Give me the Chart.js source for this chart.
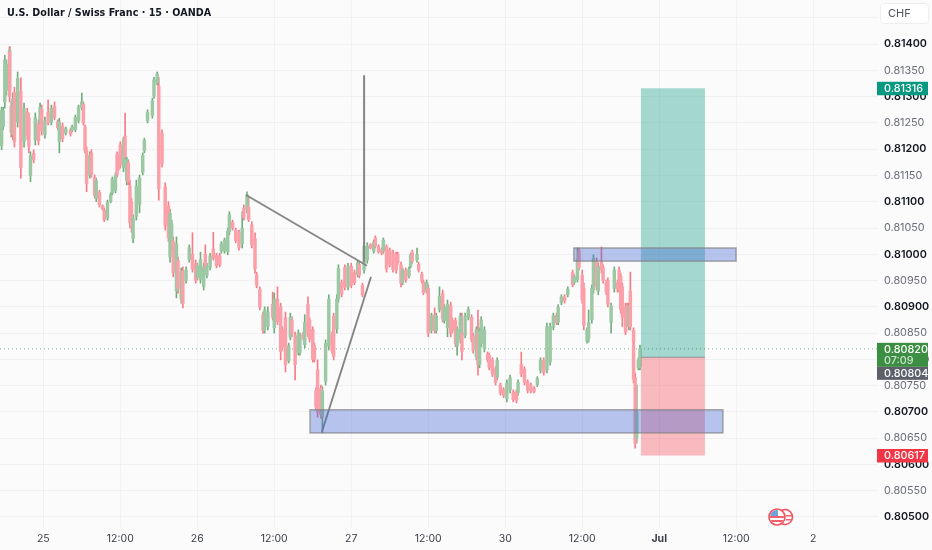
<!DOCTYPE html>
<html>
<head>
<meta charset="utf-8">
<title>USDCHF 15</title>
<script src="https://cdn.jsdelivr.net/npm/chart.js@4"></script>
<style>
  html, body { margin: 0; padding: 0; background: #fbfbfb; }
  canvas { display: block; }
</style>
</head>
<body>
<canvas id="grafico" width="932" height="550"></canvas>
<script>
// prices are in points, 81400 means 0.81400
const barSlots = [
  1,2,3,4,6,6,7,8,9,11, 13,15,17,18,19,21,22,24,25,26, 28,30,32,34,36,37,39,41,44,45,
  47,49,51,52,53,54,56,57,59,60, 62,64,65,67,69,70,72,73,74,75, 77,78,79,80,81,82,83,85,87,89,
  90,92,95,96,98,99,101,103,105,106, 107,108,110,111,113,114,116,118,120,122, 123,125,127,128,129,131,133,135,137,138,
  140,142,143,145,147,149,151,152,154,155, 157,159,160,162,164,165,167,170,171,173, 175,176,178,180,181,182,184,186,187,189,
  190,192,193,195,196,197,198,200,201,203, 205,207,208,210,211,213,215,217,219,221, 223,224,226,227,229,231,233,234,236,238,
  239,241,243,245,247,248,250,251,253,255, 256,257,260,261,263,264,266,267,269,271, 272,274,276,277,279,281,282,284,285,287,
  288,290,292,294,295,297,298,299,300,302, 304,305,307,309,310,312,314,316,318,320, 322,323,325,327,329,331,333,335,337,339,
  341,343,345,347,348,350,352,354,357,358, 360,361,363,364,366,367,369,370,372,373, 375,376,378,379,381,383,385,386,387,388,
  390,391,392,393,395,395,396,397,398,399
];
const highs = [
  81280,81280,81379,81370,81395,81395,81290,81307,81318,81347, 81336,81288,81278,81269,81195,81199,81269,81256,81288,81284,
  81261,81294,81284,81290,81256,81259,81250,81242,81240,81246, 81265,81284,81307,81290,81246,81204,81195,81199,81151,81145,
  81122,81094,81088,81103,81117,81147,81155,81195,81185,81214, 81223,81269,81185,81180,81141,81107,81075,81141,81151,81193,
  81221,81275,81297,81337,81347,81337,81237,81136,81100,81086, 81065,81033,81033,80995,80974,80976,80976,81018,81041,80989,
  80983,81004,80983,81018,80983,81002,81042,81002,81002,81024, 81031,81050,81081,81065,81050,81046,81081,81094,81119,81109,
  81062,81041,80966,80938,80890,80900,80900,80928,80926,80938, 80907,80862,80890,80831,80888,80881,80852,80856,80850,80852,
  80885,80919,80879,80862,80831,80746,80799,80751,80748,80837, 80923,80852,80888,80923,80980,80951,80980,80983,80983,80970,
  80989,80985,80945,81022,81022,81020,81027,81035,81018,81012, 81031,81018,81012,81008,81004,81004,80985,80974,80974,80976,
  81002,81008,81012,80985,80966,80951,80951,80942,80888,80898, 80888,80938,80932,80904,80913,80909,80879,80879,80862,80888,
  80888,80888,80900,80885,80850,80862,80894,80860,80881,80862, 80814,80812,80803,80786,80803,80755,80746,80761,80770,80742,
  80742,80761,80814,80786,80761,80755,80748,80767,80803,80803, 80869,80869,80888,80888,80904,80923,80923,80938,80970,80961,
  81012,81012,80970,80945,80860,80894,80942,80999,80993,80983, 81014,80980,80951,80955,80907,80976,80951,80976,80964,80945,
  80907,80907,80907,80966,80860,80831,80774,80751,80803,80827
];
const lows = [
  81199,81237,81278,81303,81307,81290,81223,81218,81204,81242, 81145,81204,81218,81193,81138,81174,81208,81208,81242,81227,
  81221,81246,81246,81256,81237,81193,81214,81227,81225,81233, 81233,81250,81275,81246,81193,81119,81145,81147,81107,81100,
  81090,81084,81062,81065,81098,81113,81117,81147,81160,81164, 81157,81176,81132,81132,81050,81042,81022,81065,81079,81151,
  81193,81250,81259,81297,81322,81103,81166,81046,81024,80985, 81008,80957,80917,80926,80907,80898,80945,80985,80966,80945,
  80951,80945,80932,80970,80955,80970,80989,80974,80976,81002, 81002,80999,81037,81046,81022,81008,81012,81065,81079,81062,
  81012,80964,80936,80894,80850,80850,80856,80875,80850,80866, 80799,80818,80776,80793,80837,80843,80761,80808,80808,80837,
  80822,80843,80833,80795,80795,80704,80690,80688,80660,80751, 80818,80812,80799,80850,80909,80919,80932,80932,80936,80942,
  80957,80955,80919,80964,80983,81010,81002,81012,81002,80999, 81002,80966,80976,80966,80964,80980,80938,80942,80947,80955,
  80974,80983,80985,80966,80945,80923,80926,80843,80850,80850, 80850,80890,80871,80869,80843,80843,80850,80824,80808,80831,
  80799,80841,80875,80833,80812,80799,80770,80784,80824,80814, 80795,80780,80767,80751,80761,80732,80727,80719,80736,80719,
  80717,80732,80767,80751,80736,80736,80736,80748,80774,80770, 80774,80789,80856,80866,80866,80904,80907,80919,80938,80942,
  80947,80970,80907,80856,80831,80833,80869,80926,80932,80923, 80964,80945,80923,80900,80850,80928,80928,80928,80888,80862,
  80847,80869,80856,80856,80827,80755,80631,80641,80780,80780
];
const opens = [
  81207,81243,81290,81312,81315,81385,81282,81228,81308,81252, 81310,81214,81270,81260,81150,81192,81218,81248,81250,81276,
  81228,81270,81252,81282,81252,81215,81244,81231,81237,81236, 81237,81254,81279,81285,81242,81198,81150,81193,81146,81106,
  81118,81092,81084,81069,81101,81117,81121,81190,81181,81208, 81165,81225,81140,81174,81130,81100,81030,81072,81095,81156,
  81197,81254,81264,81301,81326,81320,81230,81128,81092,80995, 81016,81025,80930,80988,80915,80968,80950,80990,81000,80982,
  80956,80952,80938,81000,80960,80975,81010,80998,80997,81006, 81006,81005,81043,81061,81046,81041,81020,81088,81085,81090,
  81056,81030,80961,80933,80885,80856,80862,80905,80860,80915, 80900,80856,80880,80797,80842,80875,80845,80813,80813,80849,
  80828,80905,80874,80857,80826,80741,80780,80745,80690,80758, 80825,80847,80882,80858,80915,80946,80975,80938,80977,80965,
  80962,80980,80941,80970,80989,81018,81006,81031,81015,81009, 81006,81014,81008,81003,81000,81000,80980,80946,80970,80959,
  80978,81004,80989,80981,80962,80947,80930,80935,80855,80885, 80855,80895,80925,80874,80860,80903,80875,80874,80825,80837,
  80850,80846,80880,80880,80845,80805,80850,80790,80830,80820, 80810,80808,80799,80782,80766,80751,80742,80725,80741,80738,
  80738,80737,80790,80781,80757,80751,80745,80752,80779,80798, 80780,80795,80861,80884,80871,80908,80919,80923,80965,80946,
  80952,81007,80960,80935,80835,80840,80875,80932,80986,80930, 80985,80975,80946,80950,80870,80935,80946,80970,80958,80938,
  80900,80902,80862,80930,80855,80826,80765,80650,80784,80786
];
const closes = [
  81274,81274,81370,81362,81388,81300,81232,81296,81214,81335, 81165,81278,81226,81205,81188,81180,81260,81216,81280,81235,
  81254,81250,81278,81260,81241,81252,81220,81239,81229,81243, 81261,81280,81290,81250,81198,81135,81188,81152,81112,81140,
  81094,81086,81066,81099,81113,81143,81150,81151,81164,81170, 81218,81185,81180,81138,81060,81050,81070,81130,81145,81188,
  81217,81270,81292,81332,81343,81125,81172,81055,81032,81078, 81058,80965,81020,80935,80965,80906,80970,81012,80972,80950,
  80978,80990,80976,80974,80978,80997,80993,80978,80980,81020, 81027,81044,81075,81050,81026,81013,81050,81069,81113,81066,
  81018,80972,80941,80899,80855,80894,80890,80880,80915,80872, 80815,80823,80790,80826,80880,80848,80790,80850,80845,80840,
  80870,80848,80838,80800,80800,80709,80700,80695,80740,80830, 80915,80816,80805,80915,80973,80924,80937,80978,80941,80946,
  80984,80960,80923,81015,81016,81012,81023,81016,81005,81002, 81027,80972,80980,80971,80970,80984,80945,80970,80951,80972,
  80998,80987,81000,80970,80949,80927,80947,80850,80883,80855, 80883,80920,80877,80899,80905,80850,80855,80830,80857,80882,
  80815,80882,80895,80838,80817,80856,80790,80853,80875,80856, 80799,80785,80772,80756,80798,80736,80731,80755,80765,80723,
  80722,80756,80772,80756,80741,80740,80739,80763,80798,80775, 80862,80863,80883,80870,80899,80919,80911,80934,80942,80957,
  80990,80975,80913,80865,80856,80870,80935,80992,80938,80977, 80970,80950,80928,80905,80902,80970,80933,80933,80895,80880,
  80852,80875,80900,80862,80832,80762,80640,80700,80799,80820
];

// one x tick every 48 slots (12 hours)
const firstTickSlot = 27;
const slotsPerTick = 48;
const xLabels = ['25','12:00','26','12:00','27','12:00','30','12:00','Jul','12:00','2'];
const boldXLabels = ['Jul'];
const topLabelPrice = 81400;

const lastPrice = 80820;
const prevClose = 80804;
const countdown = '07:09';
const targetPrice = 81316;
const entryPrice = 80804;
const stopPrice = 80617;

// hand drawn things on the chart [slotA, priceA, slotB, priceB]
const trendDown = [153.4, 81113, 228.8, 80978];
const trendUp = [200.7, 80662, 231.3, 80957];
const spike = [227, 81341, 227, 80985];
const zoneLow = [193.3, 80704, 450.7, 80660];
const zoneHigh = [357.8, 81012, 458.9, 80987];
const positionSlots = [399.6, 439.5];

const UP_BODY = '#9cc8a4', UP_WICK = '#70ae7c';
const DOWN_BODY = '#fb9fa9', DOWN_WICK = '#f77c89';
const TEXT = '#131722', TEXT_SOFT = '#50535e';
const AXIS_FONT = '"Inter"';

const esAlza = i => closes[i] >= opens[i];
const puntos = (a) => [{ x: a[0], y: a[1] }, { x: a[2], y: a[3] }];
const linea = (a, ancho) => ({
    type: 'line', data: puntos(a), borderColor: '#858585', borderWidth: ancho,
    pointRadius: 0, order: 1
});
const esCentena = (c) => !!c.tick && c.tick.value % 100 === 0;

// zones, position boxes, price tags and the header
const dibujos = {
    id: 'dibujos',
    afterDatasetsDraw(chart) {
        const { ctx, scales: { x, y } } = chart;
        const caja = (x1, p1, x2, p2, relleno, borde) => {
            const l = x.getPixelForValue(x1), r = x.getPixelForValue(x2);
            const t = y.getPixelForValue(p1), b = y.getPixelForValue(p2);
            ctx.fillStyle = relleno;
            ctx.fillRect(l, t, r - l, b - t);
            if (borde) {
                ctx.strokeStyle = borde;
                ctx.lineWidth = 1.5;
                ctx.strokeRect(l, t, r - l, b - t);
            }
        };
        caja(positionSlots[0], targetPrice, positionSlots[1], entryPrice, 'rgba(8,153,129,0.36)');
        caja(positionSlots[0], entryPrice, positionSlots[1], stopPrice, 'rgba(242,54,69,0.33)');
        ctx.fillStyle = '#8f8f8f';
        ctx.fillRect(x.getPixelForValue(positionSlots[0]), y.getPixelForValue(entryPrice) - 0.5,
            x.getPixelForValue(positionSlots[1]) - x.getPixelForValue(positionSlots[0]), 1);
        caja(zoneLow[0], zoneLow[1], zoneLow[2], zoneLow[3], 'rgba(62,96,210,0.36)', 'rgba(130,130,130,0.7)');
        caja(zoneHigh[0], zoneHigh[1], zoneHigh[2], zoneHigh[3], 'rgba(62,96,210,0.36)', 'rgba(130,130,130,0.7)');

        // flag of the events marker
        ctx.save();
        ctx.lineWidth = 1.6;
        ctx.strokeStyle = '#f4505e';
        ctx.fillStyle = '#fff';
        ctx.beginPath(); ctx.arc(785, 517, 7.5, 0, Math.PI * 2); ctx.fill(); ctx.stroke();
        ctx.fillStyle = '#f4606c';
        ctx.fillRect(786, 515, 6, 1.5);
        ctx.fillRect(786, 519, 6, 1.5);
        ctx.fillStyle = '#fff';
        ctx.beginPath(); ctx.arc(777, 517, 8, 0, Math.PI * 2); ctx.fill(); ctx.stroke();
        ctx.beginPath(); ctx.arc(777, 517, 7, 0, Math.PI * 2); ctx.clip();
        ctx.fillStyle = '#f4606c';
        ctx.fillRect(769, 516, 16, 2);
        ctx.fillRect(769, 520, 16, 2);
        ctx.fillStyle = '#6fa3d8';
        ctx.fillRect(769, 509, 9, 7);
        ctx.restore();

        // price tags over the axis
        const etiqueta = (top, alto, fondo, linea1, linea2) => {
            ctx.fillStyle = fondo;
            ctx.fillRect(877, top, 51, alto);
            ctx.font = '500 10.8px ' + AXIS_FONT;
            ctx.textAlign = 'left';
            ctx.textBaseline = 'middle';
            ctx.fillStyle = '#fff';
            ctx.fillText(linea1, 884, top + 7);
            if (linea2) {
                ctx.fillStyle = 'rgba(255,255,255,0.75)';
                ctx.fillText(linea2, 884, top + 18);
            }
        };
        const precio = v => (v / 100000).toFixed(5);
        const yLast = y.getPixelForValue(lastPrice);
        etiqueta(y.getPixelForValue(targetPrice) - 6.5, 13.5, '#089981', precio(targetPrice));
        etiqueta(yLast - 6, 24, '#3c8f42', precio(lastPrice), countdown);
        etiqueta(yLast + 18, 13, '#5d606b', precio(prevClose));
        etiqueta(y.getPixelForValue(stopPrice) - 6.5, 13.5, '#f23645', precio(stopPrice));

        // currency box
        ctx.fillStyle = '#fff';
        ctx.strokeStyle = '#eeeeee';
        ctx.lineWidth = 1;
        ctx.beginPath();
        ctx.roundRect(880.5, 3.5, 48, 20, 3);
        ctx.fill();
        ctx.stroke();
        ctx.fillStyle = TEXT_SOFT;
        ctx.font = '11px ' + AXIS_FONT;
        ctx.textBaseline = 'middle';
        ctx.textAlign = 'left';
        ctx.fillText('CHF', 888, 13.5);

        ctx.fillStyle = TEXT;
        ctx.font = 'bold 9.6px "DejaVu Sans"';
        ctx.fillText('U.S. Dollar / Swiss Franc · 15 · OANDA', 7, 13);
    }
};

new Chart(document.getElementById('grafico').getContext('2d'), {
    type: 'bar',
    plugins: [dibujos],
    data: {
        datasets: [
            {
                data: barSlots.map((s, i) => ({ x: s, y: [lows[i], highs[i]] })),
                backgroundColor: barSlots.map((s, i) => esAlza(i) ? UP_WICK : DOWN_WICK),
                barThickness: 1,
                grouped: false,
                order: 5
            },
            {
                data: barSlots.map((s, i) => ({ x: s, y: [opens[i], closes[i]] })),
                backgroundColor: barSlots.map((s, i) => esAlza(i) ? UP_BODY : DOWN_BODY),
                barThickness: 2.8,
                grouped: false,
                order: 4
            },
            {
                type: 'line',
                data: [{ x: 0, y: lastPrice }, { x: 547.4, y: lastPrice }],
                borderColor: '#7fb08a',
                borderWidth: 1,
                borderDash: [1, 3],
                pointRadius: 0,
                order: 6
            },
            linea(trendDown, 1.8),
            linea(trendUp, 1.8),
            linea(spike, 2)
        ]
    },
    options: {
        responsive: false,
        animation: false,
        layout: { padding: 0 },
        plugins: {
            legend: { display: false },
            tooltip: { enabled: false }
        },
        scales: {
            x: {
                type: 'linear',
                offset: false,
                min: 0,
                max: 547.4,
                grid: { offset: false, color: '#f1f1f3', drawTicks: false },
                border: { display: false },
                afterBuildTicks: (escala) => {
                    escala.ticks = xLabels.map((t, i) => ({ value: firstTickSlot + i * slotsPerTick }));
                },
                afterFit: (escala) => {
                    escala.height = 22;
                    escala.paddingLeft = 0;
                    escala.paddingRight = 0;
                },
                ticks: {
                    maxRotation: 0,
                    autoSkip: false,
                    padding: 5,
                    color: '#3a3d47',
                    font: (c) => ({
                        family: AXIS_FONT,
                        size: 10.5,
                        weight: boldXLabels.includes(xLabels[c.index]) ? '700' : '400'
                    }),
                    callback: (v, i) => xLabels[i]
                }
            },
            y: {
                position: 'right',
                min: 80479,
                max: 81484,
                grid: { color: '#f1f1f3', drawTicks: false },
                border: { display: false },
                afterFit: (escala) => {
                    escala.width = 54;
                    escala.paddingTop = 0;
                    escala.paddingBottom = 0;
                },
                ticks: {
                    stepSize: 50,
                    includeBounds: false,
                    autoSkip: false,
                    padding: 6,
                    color: (c) => esCentena(c) ? TEXT : '#6a6d78',
                    font: (c) => ({
                        family: AXIS_FONT,
                        size: 10.8,
                        weight: esCentena(c) ? '600' : '400'
                    }),
                    callback: (v) => v > topLabelPrice ? '' : (v / 100000).toFixed(5)
                }
            }
        }
    }
});
</script>
</body>
</html>
